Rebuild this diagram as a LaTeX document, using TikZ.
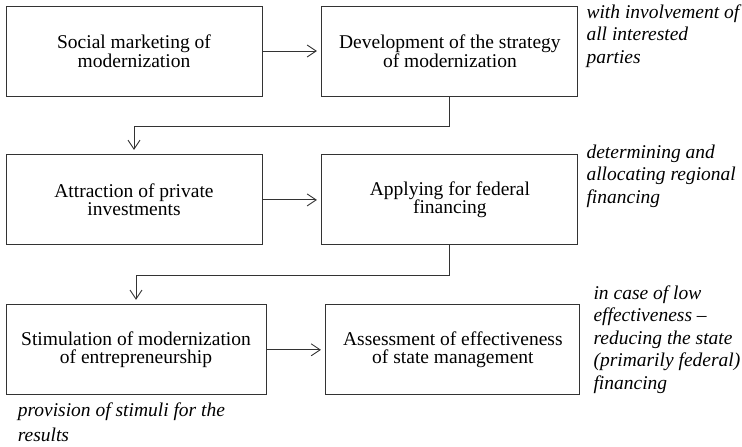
\documentclass[tikz,border=0pt]{standalone}
\usepackage{fontspec}
\setmainfont{Liberation Serif}
\usepackage{tikz}
\tikzset{x=1pt,y=1pt}
\usetikzlibrary{positioning, arrows.meta}
\tikzset{>={Straight Barb[length=9pt,width=12pt]}}

\begin{document}
\begin{tikzpicture}[
    box/.style={draw=black!80, line width=.9pt, minimum width=256pt,
      minimum height=90pt, inner sep=0pt, align=center,
      font=\fontsize{19.5}{18.5}\selectfont},
    note/.style={anchor=north west, inner sep=0pt, align=left,
      font=\itshape\fontsize{19.5}{22.5}\selectfont},
    link/.style={draw=black!80, line width=.9pt, ->, shorten >=4.5pt},
    node distance=58pt and 59pt]
  \useasboundingbox (0,0) rectangle (742,-447);
    % first row
    \node[box] (social) at (134,-51) {Social marketing of\\modernization};
    \node[box, right=of social] (strategy) {Development of the strategy\\of modernization};
    % second row
    \node[box, below=of social] (private) {Attraction of private\\investments};
    \node[box, right=of private] (federal) {Applying for federal\\financing};
    % third row
    \node[box, minimum width=260pt, below=59pt of private, xshift=2pt] (stimul)
      {Stimulation of modernization\\of entrepreneurship};
    \node[box, minimum width=254pt, right=of stimul] (assess)
      {Assessment of effectiveness\\of state management};
    % remarks
    \node[note] (nstrategy) at ([xshift=8pt,yshift=1pt]strategy.north east)
      {with involvement of\\all interested\\parties};
    \node[note] (nfederal) at ([xshift=8pt,yshift=10pt]federal.north east)
      {determining and\\allocating regional\\financing};
    \node[note] (nassess) at ([xshift=13pt,yshift=19pt]assess.north east)
      {in case of low\\effectiveness –\\reducing the state\\(primarily federal)\\financing};
    \node[note, font=\itshape\fontsize{19.5}{25}\selectfont] (nstimul)
      at ([xshift=12pt,yshift=-7pt]stimul.south west)
      {provision of stimuli for the\\results};
    % arrows
    \draw[link] (social) -- (strategy);
    \draw[link] (private) -- (federal);
    \draw[link] (stimul) -- (assess);
    \draw[link] (strategy.south) -- ++(0,-30) -| (private.north);
    \draw[link] (federal.south) -- ++(0,-30) -| (stimul.north);
\end{tikzpicture}
\end{document}
